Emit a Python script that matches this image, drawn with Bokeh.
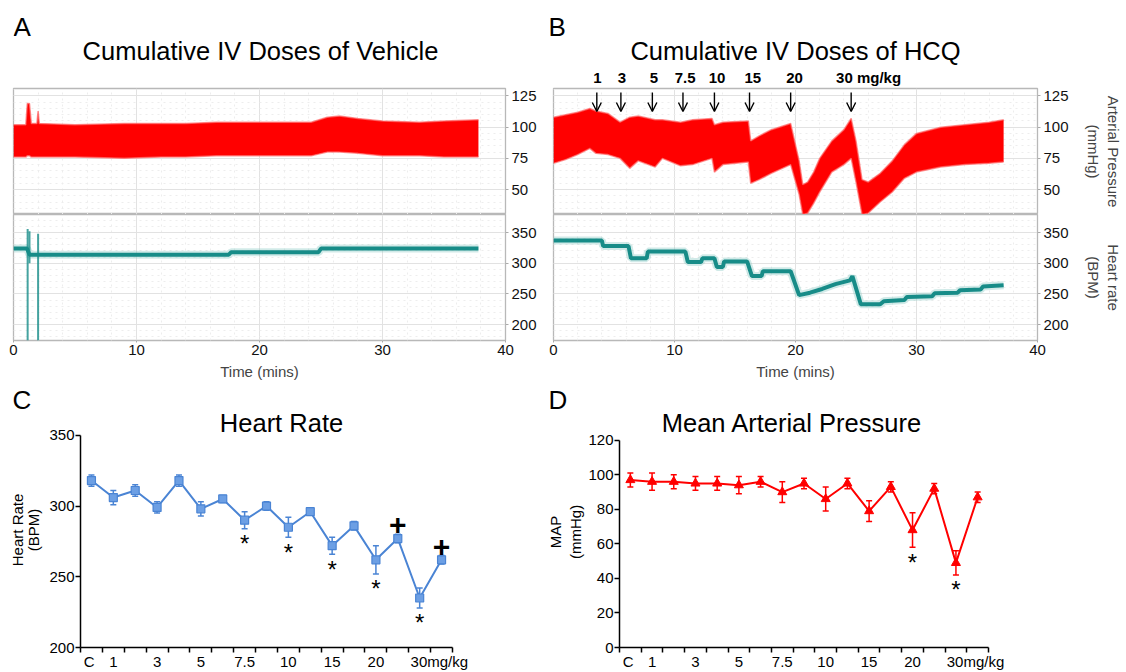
import math
from bokeh.plotting import figure
from bokeh.layouts import column, row
from bokeh.models import (Range1d, SingleIntervalTicker, FixedTicker, Arrow,
                          OpenHead, Whisker, TeeHead, ColumnDataSource, Grid, LinearAxis)
from bokeh.embed import file_html
from bokeh.resources import INLINE
from bokeh.core.properties import value

FONT = "Liberation Sans"
RED = "#ff0000"
TEAL = "#178c88"
TEAL_LIGHT = "#8ccac6"
BLUE = "#4a84d4"
BLUE_FILL = "#6c9fe4"

# ---------------- DATA ----------------
# Panel A (vehicle): arterial pressure envelope (mmHg) vs time (min)
a_bp_time = [0, 1.0, 1.12, 1.3, 1.45, 1.9, 2.0, 2.1, 5, 9, 12, 14, 16.5, 20, 22, 24.2, 25.5, 26.5, 28, 30, 33, 35, 37.8]
a_bp_sys = [102, 102, 119, 119, 103, 103, 113, 103, 102, 103, 103, 103, 104, 104, 104, 104, 108, 109, 107, 105, 104, 105, 106]
a_bp_dia = [76, 76, 77, 77, 76, 76, 76, 76, 76, 75, 76, 76, 77, 77, 77, 77, 80, 80, 79, 77, 77, 76, 76]
# Panel A heart rate (BPM)
a_hr_time = [0, 1.1, 1.3, 17.5, 17.7, 24.8, 25.0, 37.8]
a_hr = [324, 324, 314, 314, 318, 318, 324, 324]
a_spike_time = [1.15, 1.3, 2.0]
a_spike_low = [174, 300, 174]
a_spike_high = [356, 352, 348]

# Panel B (HCQ): arterial pressure envelope (mmHg)
b_bp_time = [0, 1, 2, 3, 3.5, 4.5, 5.5, 6.3, 7, 8.4, 9, 10.5, 11.5, 13.1, 13.3, 14, 16.1, 16.3, 17, 18,
             19.6, 20.3, 20.6, 21, 21.5, 22, 23, 24, 24.6, 25, 25.5, 26, 27, 28, 29, 30, 32, 34, 36, 37.2]
b_bp_sys = [108, 110, 112, 115, 113, 111, 104, 108, 109, 106, 106, 104, 106, 107, 102, 104, 105, 89, 93, 98,
            103, 73, 54, 56, 64, 75, 89, 98, 107, 89, 58, 56, 63, 73, 86, 95, 100, 102, 104, 106]
b_bp_dia = [71, 74, 78, 83, 79, 78, 75, 67, 73, 68, 75, 69, 70, 75, 64, 70, 72, 55, 58, 63,
            70, 46, 30, 31, 39, 48, 64, 70, 75, 56, 30, 31, 40, 48, 59, 64, 68, 70, 71, 72]
# Panel B heart rate (BPM)
b_hr_time = [0, 4.0, 4.1, 6.2, 6.4, 7.7, 7.8, 10.9, 11.1, 12.2, 12.3, 13.3, 13.5, 14.0, 14.1, 16.0, 16.4, 17.2,
             17.3, 19.6, 20.3, 21.2, 22.2, 23.3, 24.5, 24.7, 25.4, 27.0, 27.3, 29.0, 29.2, 31.3, 31.5, 33.4,
             33.6, 35.3, 35.5, 37.2]
b_hr = [337, 337, 328, 328, 308, 308, 319, 319, 302, 302, 308, 308, 294, 294, 303, 303, 279, 279,
        287, 287, 248, 252, 258, 266, 272, 279, 233, 233, 238, 240, 245, 246, 251, 252,
        256, 257, 262, 264]
# Cumulative HCQ doses (time of injection, min)
dose_time = [3.58, 5.57, 8.17, 10.7, 13.3, 16.2, 19.6, 24.6]
dose_text = ["1", "3", "5", "7.5", "10", "15", "20", "30 mg/kg"]

# Panels C and D: 17 sequential measurements
dose_labels = ["C", "1", "3", "5", "7.5", "10", "15", "20", "30mg/kg"]
dose_label_index = [0, 1, 3, 5, 7, 9, 11, 13, 15]
hr_mean = [318, 306, 311, 299, 318, 298, 305, 290, 300, 285, 296, 272, 286, 262, 277, 235, 262]
hr_sem = [4, 5, 4, 4, 4, 5, 2.5, 6, 3, 7, 2.5, 6, 3, 10, 3, 7, 3]
hr_star_index = [7, 9, 11, 13, 15]
hr_plus_index = [14, 16]
hr_yticks = [200, 250, 300, 350]
map_mean = [97, 96, 96, 95, 95, 94, 96, 90, 95, 86, 95, 79, 93, 68, 92, 49, 87]
map_sem = [4, 5, 4, 4, 4, 5, 3, 6, 3, 7, 3, 6, 3, 10, 3, 7, 3]
map_star_index = [13, 15]
map_yticks = [0, 20, 40, 60, 80, 100, 120]

# ---------------- layout geometry (pixels) ----------------
TOTAL_W = 1124
A_W, B_W = 545, 579
A_FL, B_FL = 13, 8            # left border of the trace frames inside each column
FRAME_W = 492                 # trace frame width, 0..40 min
PX_PER_MIN = FRAME_W / 40.0
B_X0 = A_W + B_FL             # left edge of panel B's time axis
HEAD_BL, HEAD_BR = A_FL, B_W - B_FL - FRAME_W
HEAD_H = 86
BP_RANGE = (30, 131)
HR_RANGE = (174, 379.5)


def fig(width, height, xr, yr, bl=0, br=0, bt=0, bb=0):
    p = figure(width=width, height=height, x_range=xr, y_range=yr, x_axis_type=None, y_axis_type=None,
               output_backend="svg", toolbar_location=None, tools="",
               min_border_left=bl, min_border_right=br, min_border_top=bt, min_border_bottom=bb)
    p.outline_line_color = None
    return p


def txt(p, x, y, s, size, align="center", baseline="middle", style="normal", x_offset=0, angle=0):
    p.text(x=x, y=y, text=s, text_font=value(FONT), text_font_size=size, text_align=align,
           text_baseline=baseline, text_font_style=style, text_color="black", x_offset=x_offset,
           angle=angle)


def add_grids(p, xt, yt):
    for dim, t in ((0, xt), (1, yt)):
        p.add_layout(Grid(dimension=dim, ticker=t, grid_line_color="#e2e2e2",
                          minor_grid_line_color="#ededed", minor_grid_line_dash="dotted"))


def right_axis(p, yt, label=None):
    ax = LinearAxis(ticker=yt, axis_line_color=None, major_tick_line_color="#aaaaaa",
                    major_tick_out=3, major_tick_in=0, minor_tick_line_color=None,
                    major_label_text_font=FONT, major_label_text_font_size="15px",
                    major_label_standoff=2, major_label_text_color="#111111")
    if label:
        ax.axis_label = label
        ax.axis_label_text_font = FONT
        ax.axis_label_text_font_size = "15px"
        ax.axis_label_text_font_style = "normal"
        ax.axis_label_standoff = 13
    p.add_layout(ax, "right")


def bottom_axis(p, xt):
    ax = LinearAxis(ticker=xt, axis_line_color=None, major_tick_line_color="#aaaaaa",
                    major_tick_out=2, major_tick_in=0, minor_tick_line_color=None,
                    major_label_text_font=FONT, major_label_text_font_size="15px",
                    major_label_standoff=0, major_label_text_color="#111111",
                    axis_label="Time (mins)", axis_label_text_font=FONT,
                    axis_label_text_font_size="15px", axis_label_text_font_style="normal",
                    axis_label_standoff=5)
    p.add_layout(ax, "below")


# ---------------- header strip (letters A, B, titles, dose labels) ----------------
# time scale of panel B, extended over the whole strip
top_head = fig(TOTAL_W, HEAD_H,
               Range1d((HEAD_BL - B_X0) / PX_PER_MIN, (TOTAL_W - HEAD_BR - B_X0) / PX_PER_MIN),
               Range1d(HEAD_H, 0), HEAD_BL, HEAD_BR)


def t_of(px):
    return (px - B_X0) / PX_PER_MIN


txt(top_head, [t_of(13)], [26], ["A"], "26px", align="left")
txt(top_head, [t_of(548)], [26], ["B"], "26px", align="left")
txt(top_head, [t_of(260)], [50], ["Cumulative IV Doses of Vehicle"], "25.5px")
txt(top_head, [t_of(795)], [50], ["Cumulative IV Doses of HCQ"], "25.5px")
txt(top_head, dose_time[:-1], [77] * (len(dose_time) - 1), dose_text[:-1], "15px", style="bold")
txt(top_head, dose_time[-1:], [77], dose_text[-1:], "15px", align="left", style="bold", x_offset=-20)


def trace_column(col_w, bl, bp_t, sys, dia, hr_t, hr, bp_label=None, hr_label=None, doses=None):
    br = col_w - bl - FRAME_W
    xr = Range1d(0, 40)
    xt = SingleIntervalTicker(interval=10, num_minor_ticks=5)
    yt_bp = SingleIntervalTicker(interval=25, num_minor_ticks=5)
    yt_hr = SingleIntervalTicker(interval=50, num_minor_ticks=5)
    top_border = 88 - HEAD_H
    top = fig(col_w, 126 + top_border, xr, Range1d(*BP_RANGE), bl, br, top_border, 0)
    bot = fig(col_w, 171, xr, Range1d(*HR_RANGE), bl, br, 0, 45)
    for p in (top, bot):
        p.outline_line_color = "#b8b8b8"
        p.outline_line_width = 1.3
    add_grids(top, xt, yt_bp)
    add_grids(bot, xt, yt_hr)
    right_axis(top, yt_bp, bp_label)
    right_axis(bot, yt_hr, hr_label)
    bottom_axis(bot, xt)
    top.varea(x=bp_t, y1=dia, y2=sys, fill_color=RED, fill_alpha=1.0)
    top.line(x=bp_t, y=sys, line_color="#ff6a6a", line_width=1.5, line_alpha=0.7)
    top.line(x=bp_t, y=dia, line_color="#ff6a6a", line_width=1.5, line_alpha=0.7)
    bot.line(x=hr_t, y=hr, line_color=TEAL_LIGHT, line_width=8, line_alpha=0.4)
    bot.line(x=hr_t, y=hr, line_color=TEAL, line_width=4)
    if doses:
        n = len(doses)
        ppu = 126.0 / (BP_RANGE[1] - BP_RANGE[0])
        y_hi = BP_RANGE[1] - (92 - 88) / ppu
        y_lo = BP_RANGE[1] - (111 - 88) / ppu
        src = ColumnDataSource(dict(x=doses, y0=[y_hi] * n, y1=[y_lo] * n))
        top.add_layout(Arrow(source=src, x_start="x", y_start="y0", x_end="x", y_end="y1",
                             line_width=1.4, line_color="black",
                             end=OpenHead(size=9, line_width=1.4, line_color="black")))
    return top, bot


a_top, a_bot = trace_column(A_W, A_FL, a_bp_time, a_bp_sys, a_bp_dia, a_hr_time, a_hr)
a_bot.segment(x0=a_spike_time, y0=a_spike_low, x1=a_spike_time, y1=a_spike_high,
              line_color=TEAL, line_width=2, line_alpha=0.8)
b_top, b_bot = trace_column(B_W, B_FL, b_bp_time, b_bp_sys, b_bp_dia, b_hr_time, b_hr,
                            bp_label="Arterial Pressure\n(mmHg)", hr_label="Heart rate\n(BPM)",
                            doses=dose_time)

# ---------------- Panels C and D ----------------
FIG_TOP, FIG_BOTTOM, AXIS_Y = 385, 672, 648
C_LAB_W, D_LAB_W = 45, 40


def side_strip(x0, width, letter, letter_x, lines, line_x, line_y):
    """Narrow strip left of a summary plot: panel letter and the y-axis title."""
    p = fig(width, FIG_BOTTOM - FIG_TOP, Range1d(x0, x0 + width), Range1d(AXIS_Y, FIG_TOP),
            0, 0, 0, FIG_BOTTOM - AXIS_Y)
    txt(p, [letter_x], [400], [letter], "26px", align="left")
    for s, lx in zip(lines, line_x):
        txt(p, [lx], [line_y], [s], "15px", angle=math.pi / 2)
    return p


def summary_fig(width, bl, val_top_px, yr_min, yr_max, yticks):
    ppu = (AXIS_Y - val_top_px) / float(yr_max - yr_min)
    top_val = yr_max + (val_top_px - FIG_TOP) / ppu
    p = fig(width, FIG_BOTTOM - FIG_TOP, Range1d(0, 17), Range1d(yr_min, top_val),
            bl, width - bl - 372, 0, FIG_BOTTOM - AXIS_Y)
    slots = []
    for k, i in enumerate(dose_label_index):
        shift = -0.1 if k == 0 else (0.9 if k == len(dose_label_index) - 1 else 0.0)
        slots.append(i + 0.5 + shift)
    xt = FixedTicker(ticks=slots, minor_ticks=list(range(18)))
    xax = LinearAxis(ticker=xt, axis_line_color="black", axis_line_width=1.5,
                     major_tick_out=0, major_tick_in=0, minor_tick_out=5, minor_tick_in=0,
                     minor_tick_line_color="black", minor_tick_line_width=1.5,
                     major_label_text_font=FONT, major_label_text_font_size="15px",
                     major_label_standoff=0, major_label_text_color="black",
                     major_label_overrides={s: lab for s, lab in zip(slots, dose_labels)})
    p.add_layout(xax, "below")
    yax = LinearAxis(ticker=FixedTicker(ticks=yticks), bounds=(yr_min, yr_max),
                     axis_line_color="black", axis_line_width=1.5,
                     major_tick_out=5, major_tick_in=0, major_tick_line_color="black",
                     major_tick_line_width=1.5, minor_tick_line_color=None,
                     major_label_text_font=FONT, major_label_text_font_size="15px",
                     major_label_standoff=1, major_label_text_color="black")
    p.add_layout(yax, "left")
    return p, ppu


xs = [i + 0.5 for i in range(len(hr_mean))]
CAT_PX = 372 / 17.0

# C: Heart rate
c_lab = side_strip(0, C_LAB_W, "C", 12, ["Heart Rate", "(BPM)"], [17, 33], 530)
c, c_ppu = summary_fig(A_W - C_LAB_W, 80 - C_LAB_W, 435, 200, 350, hr_yticks)
c_src = ColumnDataSource(dict(x=xs, y=hr_mean, lo=[m - s for m, s in zip(hr_mean, hr_sem)],
                              hi=[m + s for m, s in zip(hr_mean, hr_sem)]))
c.add_layout(Whisker(source=c_src, base="x", lower="lo", upper="hi", line_color=BLUE, line_width=1.5,
                     lower_head=TeeHead(size=6, line_color=BLUE, line_width=1.5),
                     upper_head=TeeHead(size=6, line_color=BLUE, line_width=1.5)))
c.line(x="x", y="y", source=c_src, line_color=BLUE, line_width=2)
c.scatter(x="x", y="y", source=c_src, marker="square", size=8, fill_color=BLUE_FILL, line_color=BLUE,
          line_width=1.2)
txt(c, [xs[i] for i in hr_star_index], [hr_mean[i] - hr_sem[i] - 15 / c_ppu for i in hr_star_index],
    ["*"] * len(hr_star_index), "24px")
txt(c, [xs[i] for i in hr_plus_index], [hr_mean[i] + hr_sem[i] + 9 / c_ppu for i in hr_plus_index],
    ["+"] * len(hr_plus_index), "30px", style="bold")
txt(c, [(281 - 80) / CAT_PX], [350 + (435 - 423) / c_ppu], ["Heart Rate"], "25.5px")

# D: Mean arterial pressure
d_lab = side_strip(A_W, D_LAB_W, "D", 548, ["MAP", "(mmHg)"], [555, 575], 532)
d, d_ppu = summary_fig(B_W - D_LAB_W, 616 - A_W - D_LAB_W, 440, 0, 120, map_yticks)
d_src = ColumnDataSource(dict(x=xs, y=map_mean, lo=[m - s for m, s in zip(map_mean, map_sem)],
                              hi=[m + s for m, s in zip(map_mean, map_sem)]))
d.add_layout(Whisker(source=d_src, base="x", lower="lo", upper="hi", line_color=RED, line_width=1.5,
                     lower_head=TeeHead(size=6, line_color=RED, line_width=1.5),
                     upper_head=TeeHead(size=6, line_color=RED, line_width=1.5)))
d.line(x="x", y="y", source=d_src, line_color=RED, line_width=2)
d.scatter(x="x", y="y", source=d_src, marker="triangle", size=9, fill_color=RED, line_color=RED)
txt(d, [xs[i] for i in map_star_index], [map_mean[i] - map_sem[i] - 15 / d_ppu for i in map_star_index],
    ["*"] * len(map_star_index), "24px")
txt(d, [(790 - 616) / CAT_PX], [120 + (440 - 423) / d_ppu], ["Mean Arterial Pressure"], "25.5px")

layout = column(top_head,
                row(column(a_top, a_bot), column(b_top, b_bot)),
                row(c_lab, c, d_lab, d))
open("out.html", "w").write(file_html(layout, INLINE))
